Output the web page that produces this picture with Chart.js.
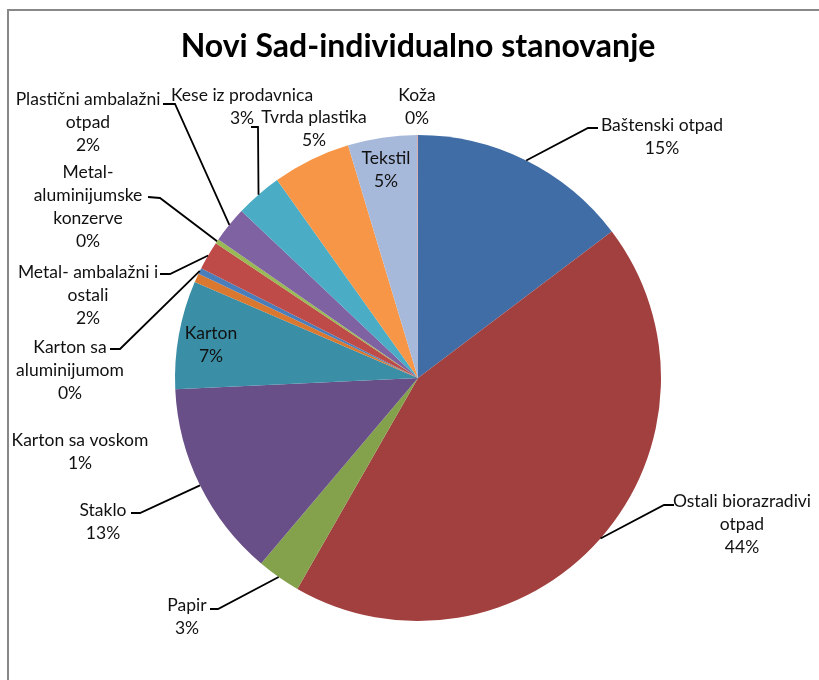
<!DOCTYPE html>
<html lang="sr">
<head>
<meta charset="UTF-8">
<title>Novi Sad-individualno stanovanje</title>
<script src="https://cdn.jsdelivr.net/npm/chart.js@4.4.1/dist/chart.umd.min.js"></script>
<style>
    html, body { margin: 0; padding: 0; background: #fff; }
    .container { width: 819px; height: 680px; position: relative; }
</style>
</head>
<body>
<div class="container">
    <canvas id="myChart"></canvas>
</div>
<script>
    var chartTitle = 'Novi Sad-individualno stanovanje';

    // categories, clockwise from 12 o'clock
    var categories = [
        'Baštenski otpad',
        'Ostali biorazradivi otpad',
        'Papir',
        'Staklo',
        'Karton',
        'Karton sa voskom',
        'Karton sa aluminijumom',
        'Metal- ambalažni i ostali',
        'Metal-aluminijumske konzerve',
        'Plastični ambalažni otpad',
        'Kese iz prodavnica',
        'Tvrda plastika',
        'Tekstil',
        'Koža'
    ];
    // shares in %
    var values = [14.7, 43.6, 2.9, 13.1, 7.2, 0.6, 0.4, 1.9, 0.3, 2.4, 3.1, 5.2, 4.6, 0.05];

    var colors = [
        '#406DA6', '#A1403E', '#84A24C', '#694F87', '#3A8EA6', '#D9782E', '#4A7EBB',
        '#BE4B48', '#98B954', '#7E62A1', '#4AACC5', '#F79646', '#A7B9DA', '#D99694'
    ];

    // how each label is broken into lines and where it sits
    var labelLines = [
        ['Baštenski otpad'],
        ['Ostali biorazradivi', 'otpad'],
        ['Papir'],
        ['Staklo'],
        ['Karton'],
        ['Karton sa voskom'],
        ['Karton sa', 'aluminijumom'],
        ['Metal- ambalažni i', 'ostali'],
        ['Metal-', 'aluminijumske', 'konzerve'],
        ['Plastični ambalažni', 'otpad'],
        ['Kese iz prodavnica'],
        ['Tvrda plastika'],
        ['Tekstil'],
        ['Koža']
    ];
    var labelPos = [
        { x: 662, y: 125, leader: [[588, 128], [598, 128]] },
        { x: 742, y: 501, leader: [[664, 505], [674, 505]] },
        { x: 187, y: 605, leader: [[218, 609], [210, 609]] },
        { x: 103, y: 510, leader: [[140, 513], [131, 513]] },
        { x: 211, y: 333 },
        { x: 80, y: 440 },
        { x: 70, y: 347, leader: [[120, 349], [110, 349]] },
        { x: 88, y: 272, leader: [[170, 274], [160, 274]] },
        { x: 88, y: 172, leader: [[160, 198], [148, 197]] },
        { x: 88, y: 99, leader: [[175, 104], [163, 104]] },
        { x: 242, y: 95, leader: [[258, 127], [251, 127]] },
        { x: 314, y: 117 },
        { x: 386, y: 158 },
        { x: 417, y: 95 }
    ];

    var total = values.reduce(function (a, b) { return a + b; }, 0);

    var labelPlugin = {
        id: 'excelLabels',
        afterDraw: function (chart) {
            var ctx = chart.ctx;
            ctx.save();
            // frame
            ctx.strokeStyle = '#888888';
            ctx.lineWidth = 2;
            ctx.beginPath();
            ctx.moveTo(8, 690);
            ctx.lineTo(8, 10);
            ctx.lineTo(830, 10);
            ctx.stroke();

            // title
            ctx.fillStyle = '#000';
            ctx.font = 'bold 32px Lato';
            ctx.textAlign = 'center';
            ctx.textBaseline = 'middle';
            ctx.fillText(chartTitle, 418, 47);

            var arcs = chart.getDatasetMeta(0).data;
            ctx.font = '17.5px Lato';
            arcs.forEach(function (arc, i) {
                var p = arc.getProps(['x', 'y', 'startAngle', 'endAngle', 'outerRadius'], true);
                var mid = (p.startAngle + p.endAngle) / 2;
                var lp = labelPos[i];
                if (lp.leader) {
                    ctx.strokeStyle = '#000';
                    ctx.lineWidth = 1.8;
                    ctx.beginPath();
                    ctx.moveTo(p.x + Math.cos(mid) * p.outerRadius, p.y + Math.sin(mid) * p.outerRadius);
                    lp.leader.forEach(function (pt) { ctx.lineTo(pt[0], pt[1]); });
                    ctx.stroke();
                }
                var lines = labelLines[i].concat([Math.round(values[i] / total * 100) + '%']);
                ctx.fillStyle = '#111';
                lines.forEach(function (t, k) {
                    ctx.fillText(t, lp.x, lp.y + k * 23);
                });
            });
            ctx.restore();
        }
    };

    new Chart(document.getElementById('myChart'), {
        type: 'pie',
        data: {
            labels: categories,
            datasets: [{
                data: values,
                backgroundColor: colors,
                borderWidth: 0
            }]
        },
        options: {
            responsive: true,
            maintainAspectRatio: false,
            animation: false,
            layout: { padding: { left: 118, right: 101, top: 135, bottom: 59 } },
            plugins: {
                legend: { display: false },
                tooltip: { enabled: false }
            }
        },
        plugins: [labelPlugin]
    });
</script>
</body>
</html>
